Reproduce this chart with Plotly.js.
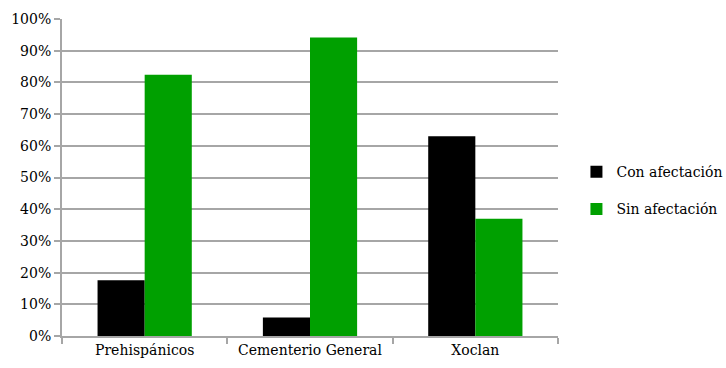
<!DOCTYPE html>
<html><head><meta charset="utf-8">
<script src="https://cdn.plot.ly/plotly-3.0.1.min.js"></script>
<style>html,body{margin:0;padding:0;background:#fff}#c{width:726px;height:368px}</style>
</head><body><div id="c"></div>
<script>
const categories = ["Prehispánicos", "Cementerio General", "Xoclan"];
const conAfectacion = [17.6, 5.8, 63.0];
const sinAfectacion = [82.4, 94.2, 37.0];
const yTicks = [0,10,20,30,40,50,60,70,80,90,100];
const yTickLabels = ["0%","10%","20%","30%","40%","50%","60%","70%","80%","90%","100%"];

const fam = "DejaVu Serif";
const data = [
  {type: "bar", name: "Con afectación", x: categories, y: conAfectacion, marker: {color: "#000000"}, legendgroup: "a"},
  {type: "bar", name: "Sin afectación", x: categories, y: sinAfectacion, marker: {color: "#00a000"}, legendgroup: "b"}
];
const layout = {
  width: 726, height: 368,
  margin: {l: 62, r: 168, t: 19, b: 32},
  paper_bgcolor: "#fff", plot_bgcolor: "#fff",
  font: {family: fam, size: 14, color: "#000"},
  barmode: "group", bargap: 0.43, bargroupgap: 0,
  showlegend: true,
  legend: {xref: "container", yref: "container", x: 0.794, y: 0.482, yanchor: "middle", xanchor: "left", font: {family: fam, size: 14, color: "#000"}, traceorder: "grouped", tracegroupgap: 16, itemwidth: 30},
  xaxis: {
    showline: true, linecolor: "#a6a6a6", linewidth: 2,
    ticks: "outside", tickson: "boundaries", ticklen: 6, tickcolor: "#a6a6a6", tickwidth: 2,
    tickfont: {family: fam, size: 14, color: "#000"}, showgrid: false
  },
  yaxis: {
    range: [0, 100], tickmode: "array", tickvals: yTicks, ticktext: yTickLabels,
    showline: true, linecolor: "#a6a6a6", linewidth: 2,
    ticks: "outside", ticklen: 6, tickcolor: "#a6a6a6", tickwidth: 2,
    showgrid: true, gridcolor: "#a6a6a6", gridwidth: 2, zeroline: false,
    tickfont: {family: fam, size: 14, color: "#000"}
  }
};
Plotly.newPlot("c", data, layout, {displayModeBar: false, staticPlot: true});
</script></body></html>
